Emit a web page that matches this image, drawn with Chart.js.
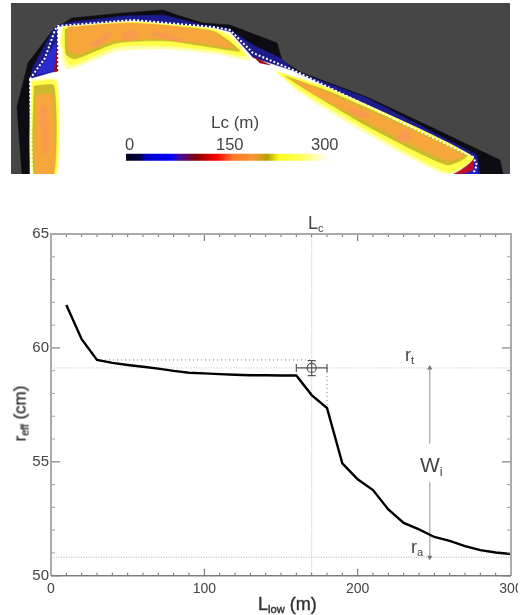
<!DOCTYPE html>
<html>
<head>
<meta charset="utf-8">
<script src="https://cdn.jsdelivr.net/npm/chart.js@4/dist/chart.umd.min.js"></script>
<style>
body { margin: 0; background: #fff; width: 524px; height: 615px; overflow: hidden; font-family: "Liberation Sans", sans-serif; color: #444; }
canvas { position: absolute; }
#mapChart { left: 11px; top: 3px; background: #464646; filter: blur(0.7px); }
#mainChart { left: 0; top: 0; filter: blur(0.35px); clip-path: inset(0 6px 0 0); }
.txt { position: absolute; white-space: nowrap; line-height: 1; filter: blur(0.25px); }
.txt sub { font-size: 62%; vertical-align: -0.3em; line-height: 0; }
.bold { -webkit-text-stroke: 0.4px #333; color: #333; }
</style>
</head>
<body>
<canvas id="mapChart" width="499" height="171"></canvas>
<canvas id="mainChart" width="524" height="615"></canvas>

<div class="txt" style="left:211px;top:114px;font-size:17px">Lc (m)</div>
<div class="txt" style="left:125px;top:136px;font-size:16.5px">0</div>
<div class="txt" style="left:216px;top:136px;font-size:16.5px">150</div>
<div class="txt" style="left:311px;top:136px;font-size:16.5px">300</div>

<div class="txt" style="left:308px;top:214px;font-size:18px">L<sub>c</sub></div>
<div class="txt" style="left:405px;top:346px;font-size:18px">r<sub>t</sub></div>
<div class="txt" style="left:411px;top:538px;font-size:18px">r<sub>a</sub></div>
<div class="txt" style="left:420px;top:454px;font-size:21px">W<sub>i</sub></div>
<div class="txt bold" style="left:258px;top:595px;font-size:18px">L<sub>low</sub> (m)</div>
<div class="txt bold" style="left:-18px;top:405px;width:76px;text-align:center;font-size:17px;transform:rotate(-90deg)">r<sub>eff</sub> (cm)</div>

<script>
// main curve
let lowLength = [10,20,30,40,50,60,70,80,90,100,110,120,130,140,150,160,170,180,190,200,210,220,230,240,250,260,270,280,290,300];
let effRadius = [61.88,60.38,59.47,59.34,59.25,59.17,59.09,58.99,58.91,58.88,58.85,58.82,58.8,58.8,58.79,58.79,57.93,57.36,54.93,54.23,53.76,52.91,52.32,52.03,51.7,51.53,51.3,51.12,51.02,50.95];

// reference values
let lcValue = 170;
let lcErrorX = [160,180];
let rtValue = 59.12;
let rtErrorY = [58.78,59.44];
let raValue = 50.81;
let plateauValue = 59.47;
let plateauFrom = 30;
let kneeValue = 57.36;
let widthX = 247;
let widthGap = [54.1,55.8];

// map outlines in image pixels
let outerBand = [[17,107],[28,63],[53,30],[72,18],[123,13],[163,10],[177,15],[203,23],[230,25],[277,43],[282,60],[300,72],[367,97],[433,128],[500,160],[503,174],[22,174]];
let blueBand = [[30,78],[33,67],[53,30],[58,25],[72,22],[123,16],[163,15],[203,25],[227,28],[253,45],[280,58],[297,72],[367,98],[477,155],[480,174],[440,174],[450,150],[30,174]];
let blueLeft = [[36,75],[56,70],[56,42]];
let innerWhite = [[30,79],[58,71],[58,27],[133,21],[213,28],[230,32],[253,58],[293,71],[473,157],[450,174],[30,174]];
let redLeft = [[54,72],[58,71],[58,43]];
let redMid = [[254,57],[270,65],[260,63]];
let redRight = [[453,174],[473,160],[473,170],[462,174]];
let blueRight = [[456,174],[475,160],[478,174]];
let stripPale = [
    [[62,27],[133,22],[213,29],[232,36],[250,60],[217,54],[167,49],[117,51],[67,69],[60,43]],
    [[31,80],[57,80],[57,174],[32,174]],
    [[274,70],[333,90],[473,157],[448,175],[367,134],[300,93]]
];
let stripYellow = [
    [[63,27],[133,22],[213,29],[230,37],[245,56],[217,51],[167,46],[117,47],[70,65],[62,43]],
    [[32,82],[56,82],[56,174],[33,174]],
    [[277,72],[333,90],[473,157],[448,172],[367,130],[300,90]]
];
let stripOlive = [
    [[65,29],[133,24],[213,31],[240,51],[210,47],[167,41],[117,43],[75,59],[66,54]],
    [[34,86],[54,86],[54,174],[34,174]],
    [[285,76],[333,93],[467,155],[447,165],[367,126],[300,86]]
];
let stripOrange = [
    [[68,27],[133,23],[213,32],[233,48],[207,44],[167,39],[113,41],[78,54],[68,50]],
    [[36,95],[52,95],[53,174],[36,174]],
    [[293,79],[333,95],[463,155],[447,161],[367,122],[310,92]]
];
let stripHot = [
    [[122,33],[133,30],[138,36],[130,41],[124,39]],
    [[90,45],[108,32],[112,35],[95,47]],
    [[155,31],[185,40],[182,42],[152,35]],
    [[40,110],[45,105],[47,125],[42,135]],
    [[43,130],[48,125],[48,150],[44,155]],
    [[395,138],[405,130],[412,137],[403,142]],
    [[350,108],[370,114],[368,118],[350,113]]
];
let dotLine = [[30,79],[45,58],[55,30],[58,26],[133,20],[213,27],[230,30],[253,53],[293,70],[473,157],[477,165],[473,174]];
let dotLeft = [[30,79],[32,174]];
let dotInner = [[58,27],[58,71]];

// colour bar of Lc
let barEnds = [126,328];
let barY = 157.3;
let barStops = [0,0.07,0.1,0.22,0.27,0.35,0.45,0.53,0.63,0.7,0.76,0.86,0.94,1];
let barColors = ['#000014','#00004a','#0000c8','#0000ff','#4a0a96','#8a0000','#ff0000','#ff7828','#fa9632','#b4a000','#ffff1e','#ffff50','#ffffb4','#ffffff'];

function toPoints(list){
    return list.map(function(p){ return {x: p[0], y: p[1]}; });
}

function closed(list){
    return toPoints(list.concat([list[0]]));
}

function shape(list, color, bend){
    return {
        data: closed(list),
        showLine: true,
        fill: 'shape',
        backgroundColor: color,
        borderColor: color,
        borderWidth: 0.5,
        pointRadius: 0,
        tension: bend || 0
    };
}

function dotted(list){
    return {
        data: toPoints(list),
        showLine: true,
        fill: false,
        borderColor: '#ffffff',
        borderWidth: 2,
        borderDash: [2,2],
        pointRadius: 0
    };
}

let mapSets = [
    shape(outerBand, '#0c0c12'),
    shape(blueBand, '#1c1c8c'),
    shape(blueLeft, '#2a2ad2'),
    shape(innerWhite, '#ffffff'),
    shape(redLeft, '#9a0a14'),
    shape(redMid, '#9a0a14'),
    shape(blueRight, '#2222c8'),
    shape(redRight, '#c01030')
];
stripPale.forEach(function(s){ mapSets.push(shape(s, '#ffffa8', 0.2)); });
stripYellow.forEach(function(s){ mapSets.push(shape(s, '#ffff4a', 0.2)); });
stripOlive.forEach(function(s){ mapSets.push(shape(s, '#cdb92c', 0.2)); });
stripOrange.forEach(function(s){ mapSets.push(shape(s, '#f7a63c', 0.2)); });
stripHot.forEach(function(s){ mapSets.push(shape(s, '#f89a50', 0.3)); });
mapSets.push(dotted(dotLine));
mapSets.push(dotted(dotLeft));
mapSets.push(dotted(dotInner));

// the colour bar is a thick line with a gradient
mapSets.push({
    data: [{x: barEnds[0], y: barY},{x: barEnds[1], y: barY}],
    showLine: true,
    fill: false,
    borderWidth: 7,
    pointRadius: 0,
    borderColor: function(ctx){
        if(!ctx.chart.chartArea){
            return barColors[0];
        }
        let xs = ctx.chart.scales.x;
        let left = xs.getPixelForValue(barEnds[0]);
        let right = xs.getPixelForValue(barEnds[1]);
        if(!isFinite(left) || !isFinite(right)){
            return barColors[0];
        }
        let g = ctx.chart.ctx.createLinearGradient(left, 0, right, 0);
        barStops.forEach(function(s, i){ g.addColorStop(s, barColors[i]); });
        return g;
    }
});

// chart.js paints the first dataset last, so turn the layers round
mapSets.reverse();

let mapChart = new Chart(document.getElementById('mapChart'), {
    type: 'scatter',
    data: { datasets: mapSets },
    options: {
        responsive: false,
        animation: false,
        layout: { padding: 0, autoPadding: false },
        plugins: { legend: { display: false }, tooltip: { enabled: false } },
        scales: {
            x: { display: false, min: 11, max: 510 },
            y: { display: false, min: 3, max: 174, reverse: true }
        }
    }
});

// ticks pointing inwards on all four sides plus the frame
let frameTicks = {
    id: 'frameTicks',
    afterDatasetsDraw: function(chart){
        let c = chart.ctx;
        let a = chart.chartArea;
        c.save();
        c.strokeStyle = '#9a9a9a';
        c.lineWidth = 1;
        chart.scales.x.ticks.forEach(function(t){
            let px = chart.scales.x.getPixelForValue(t.value);
            let len = t.value % 100 == 0 ? 7 : 3;
            c.strokeStyle = '#666';
            c.beginPath();
            c.moveTo(px, a.bottom); c.lineTo(px, a.bottom - len);
            c.stroke();
            c.beginPath();
            c.moveTo(px, a.top); c.lineTo(px, a.top + len);
            c.stroke();
        });
        chart.scales.y.ticks.forEach(function(t){
            let py = chart.scales.y.getPixelForValue(t.value);
            let major = t.value % 5 == 0;
            c.strokeStyle = '#9a9a9a';
            c.lineWidth = major ? 1.5 : 1;
            let len = major ? 9 : 4;
            c.beginPath();
            c.moveTo(a.left, py); c.lineTo(a.left + len, py);
            c.stroke();
            c.beginPath();
            c.moveTo(a.right, py); c.lineTo(a.right - len, py);
            c.stroke();
        });
        c.lineWidth = 2;
        c.strokeStyle = '#aaaaaa';
        c.beginPath();
        c.moveTo(a.left, a.bottom); c.lineTo(a.left, a.top); c.lineTo(a.right, a.top); c.lineTo(a.right, a.bottom);
        c.stroke();
        c.lineWidth = 1.5;
        c.strokeStyle = '#7d7d7d';
        c.beginPath();
        c.moveTo(a.left, a.bottom); c.lineTo(a.right, a.bottom);
        c.stroke();
        c.restore();
    }
};

function guide(points, color, dash){
    return {
        data: points,
        showLine: true,
        fill: false,
        borderColor: color,
        borderWidth: 1,
        borderDash: dash,
        pointRadius: 0
    };
}

function arrowPart(points, rotation){
    return {
        data: points,
        showLine: true,
        fill: false,
        borderColor: '#b4b4b4',
        borderWidth: 1.5,
        pointRadius: [0,3],
        pointStyle: 'triangle',
        pointRotation: rotation,
        pointBackgroundColor: '#777',
        pointBorderColor: '#777',
        pointBorderWidth: 0
    };
}

function errorBar(points, rotation){
    return {
        data: points,
        showLine: true,
        fill: false,
        borderColor: '#555',
        borderWidth: 1.2,
        pointRadius: 4,
        pointStyle: 'line',
        pointRotation: rotation,
        pointBorderColor: '#555',
        pointBorderWidth: 1.2
    };
}

let curve = lowLength.map(function(v, i){ return {x: v, y: effRadius[i]}; });

let mainChart = new Chart(document.getElementById('mainChart'), {
    type: 'scatter',
    data: {
        datasets: [
            {
                data: curve,
                showLine: true,
                fill: false,
                borderColor: '#000',
                borderWidth: 2.4,
                pointRadius: 0,
                tension: 0
            },
            {
                data: [{x:lcValue,y:rtValue}],
                pointRadius: 4.5,
                pointStyle: 'circle',
                pointBackgroundColor: 'rgba(255,255,255,0)',
                pointBorderColor: '#555',
                pointBorderWidth: 1.2
            },
            errorBar([{x:lcErrorX[0],y:rtValue},{x:lcErrorX[1],y:rtValue}], 90),
            errorBar([{x:lcValue,y:rtErrorY[0]},{x:lcValue,y:rtErrorY[1]}], 0),
            arrowPart([{x:widthX,y:widthGap[1]},{x:widthX,y:rtValue}], 0),
            arrowPart([{x:widthX,y:widthGap[0]},{x:widthX,y:raValue}], 180),
            guide([{x:plateauFrom,y:plateauValue},{x:lcValue,y:plateauValue}], '#777', [1,3]),
            guide([{x:lcErrorX[1],y:rtValue},{x:lcErrorX[1],y:kneeValue}], '#777', [1,3]),
            guide([{x:0,y:rtValue},{x:300,y:rtValue}], '#c4c4c4', [1,1.5]),
            guide([{x:0,y:raValue},{x:300,y:raValue}], '#b4b4b4', [1,1.5]),
            guide([{x:lcValue,y:50},{x:lcValue,y:65}], '#bcbcbc', [1,1.5])
        ]
    },
    options: {
        responsive: false,
        animation: false,
        layout: { padding: { left: 0, top: 234, right: 13, bottom: 0 }, autoPadding: false },
        plugins: { legend: { display: false }, tooltip: { enabled: false } },
        scales: {
            x: {
                type: 'linear',
                min: 0,
                max: 300,
                grid: { display: false, drawTicks: false },
                border: { display: false },
                afterFit: function(scale){
                    scale.height = 39.3;
                    // the 300 label may hang past the plot, it is cut at the page edge anyway
                    scale.paddingLeft = 0;
                    scale.paddingRight = 0;
                },
                ticks: {
                    stepSize: 10,
                    autoSkip: false,
                    maxRotation: 0,
                    padding: 5,
                    color: '#444',
                    font: { family: 'Liberation Sans', size: 14 },
                    callback: function(v){ return v % 100 == 0 ? v : ''; }
                }
            },
            y: {
                type: 'linear',
                min: 50,
                max: 65,
                grid: { display: false, drawTicks: false },
                border: { display: false },
                afterFit: function(scale){ scale.width = 51; },
                ticks: {
                    stepSize: 1,
                    autoSkip: false,
                    padding: 2,
                    color: '#444',
                    font: { family: 'Liberation Sans', size: 15 },
                    callback: function(v){ return v % 5 == 0 ? v : ''; }
                }
            }
        }
    },
    plugins: [frameTicks]
});
</script>
</body>
</html>
